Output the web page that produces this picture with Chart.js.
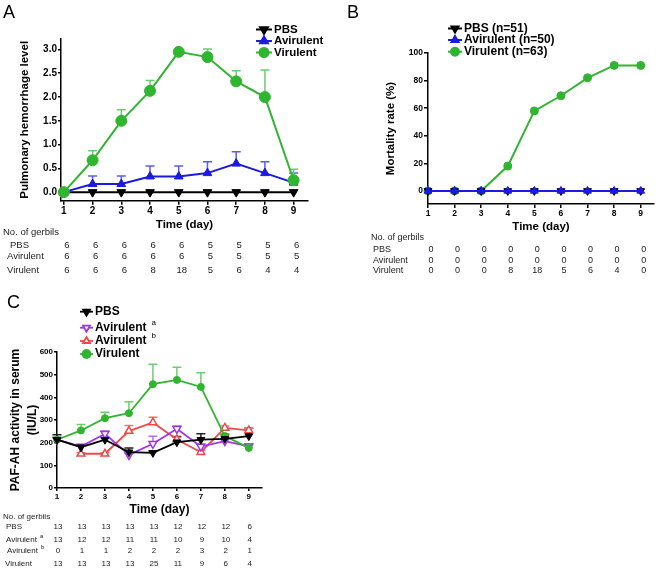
<!DOCTYPE html>
<html>
<head>
<meta charset="utf-8">
<script src="https://cdn.jsdelivr.net/npm/chart.js@4.4.0/dist/chart.umd.min.js"></script>
<style>
body { margin: 0; background: #fff; }
#wrap { position: relative; width: 656px; height: 568px; }
canvas { position: absolute; }
</style>
</head>
<body>
<div id="wrap">
  <canvas id="chartA" style="left:0;top:0" width="328" height="280"></canvas>
  <canvas id="chartB" style="left:330px;top:0" width="326" height="280"></canvas>
  <canvas id="chartC" style="left:0;top:280px" width="330" height="288"></canvas>
</div>
<script>
const days = [1, 2, 3, 4, 5, 6, 7, 8, 9];

// A - pulmonary hemorrhage level
const hemTicks = [0, 0.5, 1, 1.5, 2, 2.5, 3];
const hemPBS = [0, 0, 0, 0, 0, 0, 0, 0, 0];
const hemAvir = [0, 0.17, 0.17, 0.33, 0.33, 0.4, 0.6, 0.4, 0.2];
const hemAvirErr = [0, 0.17, 0.17, 0.22, 0.22, 0.24, 0.25, 0.24, 0.2];
const hemVir = [0, 0.67, 1.5, 2.13, 2.95, 2.84, 2.33, 2.0, 0.25];
const hemVirErr = [0, 0.2, 0.23, 0.22, 0.03, 0.17, 0.22, 0.57, 0.23];
const nA_PBS = [6, 6, 6, 6, 6, 5, 5, 5, 6];
const nA_Avir = [6, 6, 6, 6, 6, 5, 5, 5, 5];
const nA_Vir = [6, 6, 6, 8, 18, 5, 6, 4, 4];

// B - mortality rate
const mortTicks = [0, 20, 40, 60, 80, 100];
const mortPBS = [0, 0, 0, 0, 0, 0, 0, 0, 0];
const mortAvir = [0, 0, 0, 0, 0, 0, 0, 0, 0];
const mortVir = [0, 0, 0, 18, 58, 69, 82, 91, 91];
const nB_PBS = [0, 0, 0, 0, 0, 0, 0, 0, 0];
const nB_Avir = [0, 0, 0, 0, 0, 0, 0, 0, 0];
const nB_Vir = [0, 0, 0, 8, 18, 5, 6, 4, 0];

// C - PAF-AH activity
const pafTicks = [0, 100, 200, 300, 400, 500, 600];
const pafPBS = [213, 180, 213, 158, 155, 202, 213, 217, 229];
const pafPBSErr = [22, 10, 10, 19, 8, 25, 26, 18, 35];
const pafAvirA = [213, 183, 239, 146, 195, 261, 183, 207, 184];
const pafAvirAErr = [10, 8, 12, 8, 33, 12, 10, 10, 10];
const pafAvirB = [null, 151, 151, 251, 289, 214, 158, 265, 254];
const pafAvirBErr = [0, 5, 5, 25, 23, 10, 8, 8, 8];
const pafVir = [213, 254, 308, 330, 458, 477, 446, 229, 177];
const pafVirErr = [8, 26, 26, 50, 88, 56, 63, 10, 10];
const nC_PBS = [13, 13, 13, 13, 13, 12, 12, 12, 6];
const nC_AvirA = [13, 12, 12, 11, 11, 10, 9, 10, 4];
const nC_AvirB = [0, 1, 1, 2, 2, 2, 3, 2, 1];
const nC_Vir = [13, 13, 13, 13, 25, 11, 9, 6, 4];

const FONT = '"Liberation Sans", Arial, Helvetica, sans-serif';
Chart.defaults.font.family = FONT;
Chart.defaults.color = '#000';

const GREEN = '#2fb52f';
const BLUE = '#1a1ae0';
const PURPLE = '#a033ee';
const RED = '#f04848';

function pts(vals) {
    return days.map((d, i) => ({x: d, y: vals[i]}));
}

// error bars (upper whisker + cap), drawn under the lines
const errorBars = {
    id: 'errorBars',
    beforeDatasetsDraw(chart) {
        const ctx = chart.ctx;
        const yScale = chart.scales.y;
        chart.data.datasets.forEach((ds, i) => {
            if (!ds.errors) return;
            const meta = chart.getDatasetMeta(i);
            ctx.save();
            ctx.strokeStyle = ds.errorColor || ds.borderColor;
            ctx.lineWidth = 1.5;
            meta.data.forEach((pt, j) => {
                const v = ds.data[j].y;
                const e = ds.errors[j];
                if (v == null || !e) return;
                const top = yScale.getPixelForValue(v + e);
                ctx.beginPath();
                ctx.moveTo(pt.x, pt.y);
                ctx.lineTo(pt.x, top);
                ctx.moveTo(pt.x - 4.5, top);
                ctx.lineTo(pt.x + 4.5, top);
                ctx.stroke();
            });
            ctx.restore();
        });
    }
};

// panel letter, legend and "No. of gerbils" table
function makeExtras(cfg) {
    return {
        id: 'extras',
        afterDraw(chart) {
            const ctx = chart.ctx;
            const xScale = chart.scales.x;
            ctx.save();
            ctx.fillStyle = '#000';
            ctx.textBaseline = 'top';
            ctx.font = '18px ' + FONT;
            ctx.fillText(cfg.letter, cfg.letterX, cfg.letterY);

            const lg = cfg.legend;
            lg.items.forEach((it, k) => {
                const ds = chart.data.datasets[it.ds];
                const y = lg.ys[k];
                ctx.strokeStyle = ds.borderColor;
                ctx.lineWidth = ds.borderWidth;
                ctx.beginPath();
                ctx.moveTo(lg.x, y);
                ctx.lineTo(lg.x + lg.len, y);
                ctx.stroke();
                ctx.fillStyle = ds.pointBackgroundColor;
                ctx.strokeStyle = ds.borderColor;
                Chart.helpers.drawPoint(ctx, {
                    pointStyle: ds.pointStyle, rotation: ds.pointRotation || 0,
                    radius: lg.r, borderWidth: ds.pointBorderWidth
                }, lg.x + lg.len / 2, y);
                ctx.fillStyle = '#000';
                ctx.textBaseline = 'middle';
                ctx.textAlign = 'left';
                ctx.font = 'bold ' + lg.size + 'px ' + FONT;
                const tx = lg.x + lg.len + 2;
                ctx.fillText(it.text, tx, y);
                if (it.sup) {
                    const w = ctx.measureText(it.text).width;
                    ctx.font = '8px ' + FONT;
                    ctx.fillText(it.sup, tx + w + 5, y - 5);
                }
            });

            const tb = cfg.table;
            ctx.fillStyle = '#222';
            ctx.textBaseline = 'middle';
            ctx.font = tb.size + 'px ' + FONT;
            ctx.textAlign = 'left';
            ctx.fillText('No. of gerbils', tb.titleX, tb.titleY);
            tb.rows.forEach(r => {
                ctx.font = tb.size + 'px ' + FONT;
                ctx.textAlign = 'left';
                ctx.fillText(r.label, r.x, r.y);
                if (r.sup) {
                    const w = ctx.measureText(r.label).width;
                    ctx.font = (tb.size - 2) + 'px ' + FONT;
                    ctx.fillText(r.sup, r.x + w + 3, r.y - 3);
                    ctx.font = tb.size + 'px ' + FONT;
                }
                ctx.textAlign = 'center';
                r.vals.forEach((v, k) => {
                    ctx.fillText(String(v), xScale.getPixelForValue(days[k]) + tb.offset, r.y);
                });
            });
            ctx.restore();
        }
    };
}

function xAxis(min, max, size, height, titleSize, titlePad, tickLen) {
    return {
        type: 'linear', min: min, max: max,
        afterBuildTicks: s => { s.ticks = days.map(v => ({value: v})); },
        afterFit: s => { s.height = height; },
        ticks: { font: {size: size, weight: 'bold'}, color: '#000', padding: 1, autoSkip: false, maxRotation: 0, callback: v => String(v) },
        grid: { drawOnChartArea: false, color: '#000', tickLength: tickLen, lineWidth: 1.5 },
        border: { color: '#000', width: 1.5 },
        title: { display: true, text: 'Time (day)', color: '#000', font: {size: titleSize, weight: 'bold'}, padding: {top: 0, bottom: titlePad} }
    };
}

function yAxis(min, max, tickVals, fmt, size, width, title, titleSize, titlePad, lh, tickLen) {
    return {
        type: 'linear', min: min, max: max,
        afterBuildTicks: s => { s.ticks = tickVals.map(v => ({value: v})); },
        afterFit: s => { s.width = width; },
        ticks: { font: {size: size, weight: 'bold'}, color: '#000', padding: 1, autoSkip: false, callback: fmt },
        grid: { drawOnChartArea: false, color: '#000', tickLength: tickLen, lineWidth: 1.5 },
        border: { color: '#000', width: 1.5 },
        title: { display: true, text: title, color: '#000', font: {size: titleSize, weight: 'bold', lineHeight: lh}, padding: {top: titlePad, bottom: 0} }
    };
}

const baseOpts = {
    responsive: false,
    animation: false,
    plugins: { legend: { display: false }, tooltip: { enabled: false } }
};

// ---------- A ----------
new Chart(document.getElementById('chartA'), {
    type: 'line',
    data: {
        datasets: [
            { label: 'PBS', data: pts(hemPBS), borderColor: '#000', borderWidth: 2, pointStyle: 'triangle', pointRotation: 180,
              pointRadius: 5, pointBackgroundColor: '#000', pointBorderColor: '#000', pointBorderWidth: 1, order: 2, clip: false },
            { label: 'Avirulent', data: pts(hemAvir), errors: hemAvirErr, errorColor: '#5a5aee', borderColor: BLUE, borderWidth: 2,
              pointStyle: 'triangle', pointRadius: 5, pointBackgroundColor: BLUE, pointBorderColor: BLUE, pointBorderWidth: 1, order: 1, clip: false },
            { label: 'Virulent', data: pts(hemVir), errors: hemVirErr, errorColor: '#6cce6c', borderColor: GREEN, borderWidth: 2,
              pointStyle: 'circle', pointRadius: 5.5, pointBackgroundColor: GREEN, pointBorderColor: GREEN, pointBorderWidth: 1, order: 0, clip: false }
        ]
    },
    options: Object.assign({}, baseOpts, {
        layout: { autoPadding: false, padding: {top: 39, right: 20, bottom: 47.3, left: 0} },
        elements: { line: { tension: 0 } },
        scales: {
            x: xAxis(0.9, 9.5, 10, 32, 11.5, 0.8, 4),
            y: yAxis(-0.18, 3.22, hemTicks, v => v.toFixed(1), 10, 61, 'Pulmonary hemorrhage level', 11.5, 18, 1.2, 3)
        }
    }),
    plugins: [errorBars, makeExtras({
        letter: 'A', letterX: 3, letterY: 4,
        legend: { x: 256, len: 16, r: 4.5, size: 11.5, ys: [29.5, 41, 52.5],
                  items: [{ds: 0, text: 'PBS'}, {ds: 1, text: 'Avirulent'}, {ds: 2, text: 'Virulent'}] },
        table: { size: 9.5, titleX: 3, titleY: 232.3, offset: 3, rows: [
            {label: 'PBS', x: 10, y: 245, vals: nA_PBS},
            {label: 'Avirulent', x: 7, y: 256.7, vals: nA_Avir},
            {label: 'Virulent', x: 7, y: 270, vals: nA_Vir}
        ] }
    })]
});

// ---------- B ----------
new Chart(document.getElementById('chartB'), {
    type: 'line',
    data: {
        datasets: [
            { label: 'PBS (n=51)', data: pts(mortPBS), borderColor: '#000', borderWidth: 2, pointStyle: 'triangle', pointRotation: 180,
              pointRadius: 4.5, pointBackgroundColor: '#000', pointBorderColor: '#000', pointBorderWidth: 1, order: 1, clip: false },
            { label: 'Avirulent (n=50)', data: pts(mortAvir), borderColor: BLUE, borderWidth: 2, pointStyle: 'triangle',
              pointRadius: 4.5, pointBackgroundColor: BLUE, pointBorderColor: BLUE, pointBorderWidth: 1, order: 0, clip: false },
            { label: 'Virulent (n=63)', data: pts(mortVir), borderColor: GREEN, borderWidth: 2, pointStyle: 'circle',
              pointRadius: 4, pointBackgroundColor: GREEN, pointBorderColor: GREEN, pointBorderWidth: 1, order: 2, clip: false }
        ]
    },
    options: Object.assign({}, baseOpts, {
        layout: { autoPadding: false, padding: {top: 53, right: 2, bottom: 44, left: 0} },
        elements: { line: { tension: 0 } },
        scales: {
            x: xAxis(1, 9.5, 8.5, 32, 11.5, 2.1, 4),
            y: yAxis(-9.5, 100, mortTicks, v => String(v), 8.5, 98, 'Mortality rate (%)', 11.5, 54, 1.2, 4)
        }
    }),
    plugins: [makeExtras({
        letter: 'B', letterX: 17, letterY: 4,
        legend: { x: 118, len: 14, r: 4, size: 12, ys: [28.5, 40, 51.7],
                  items: [{ds: 0, text: 'PBS (n=51)'}, {ds: 1, text: 'Avirulent (n=50)'}, {ds: 2, text: 'Virulent (n=63)'}] },
        table: { size: 9, titleX: 41, titleY: 238, offset: 3, rows: [
            {label: 'PBS', x: 43, y: 249.3, vals: nB_PBS},
            {label: 'Avirulent', x: 43, y: 260.7, vals: nB_Avir},
            {label: 'Virulent', x: 43, y: 271, vals: nB_Vir}
        ] }
    })]
});

// ---------- C ----------
new Chart(document.getElementById('chartC'), {
    type: 'line',
    data: {
        datasets: [
            { label: 'PBS', data: pts(pafPBS), errors: pafPBSErr, errorColor: '#222', borderColor: '#000', borderWidth: 1.8,
              pointStyle: 'triangle', pointRotation: 180, pointRadius: 4.5, pointBackgroundColor: '#000', pointBorderColor: '#000',
              pointBorderWidth: 1, order: 0, clip: false },
            { label: 'Avirulent a', data: pts(pafAvirA), errors: pafAvirAErr, errorColor: '#b870f2', borderColor: PURPLE, borderWidth: 1.8,
              pointStyle: 'triangle', pointRotation: 180, pointRadius: 4.5, pointBackgroundColor: '#fff', pointBorderColor: PURPLE,
              pointBorderWidth: 1.5, order: 2, clip: false },
            { label: 'Avirulent b', data: pts(pafAvirB), errors: pafAvirBErr, errorColor: '#f27474', borderColor: RED, borderWidth: 1.8,
              pointStyle: 'triangle', pointRadius: 4.5, pointBackgroundColor: '#fff', pointBorderColor: RED,
              pointBorderWidth: 1.5, order: 3, clip: false },
            { label: 'Virulent', data: pts(pafVir), errors: pafVirErr, errorColor: '#6cce6c', borderColor: GREEN, borderWidth: 1.8,
              pointStyle: 'circle', pointRadius: 3.5, pointBackgroundColor: GREEN, pointBorderColor: GREEN,
              pointBorderWidth: 1, order: 1, clip: false }
        ]
    },
    options: Object.assign({}, baseOpts, {
        layout: { autoPadding: false, padding: {top: 72, right: 68, bottom: 50, left: 0} },
        elements: { line: { tension: 0 } },
        scales: {
            x: xAxis(1, 9.55, 8, 30, 12, 0.8, 3),
            y: yAxis(0, 600, pafTicks, v => String(v), 8, 57, ['PAF-AH activity in serum', '(IU/L)'], 12, 7.1, 1.4, 3)
        }
    }),
    plugins: [errorBars, makeExtras({
        letter: 'C', letterX: 7, letterY: 14,
        legend: { x: 80, len: 13, r: 4, size: 12, ys: [31.7, 47.7, 61, 74],
                  items: [{ds: 0, text: 'PBS'}, {ds: 1, text: 'Avirulent', sup: 'a'}, {ds: 2, text: 'Avirulent', sup: 'b'}, {ds: 3, text: 'Virulent'}] },
        table: { size: 8, titleX: 3, titleY: 236.7, offset: 1, rows: [
            {label: 'PBS', x: 6, y: 246.7, vals: nC_PBS},
            {label: 'Avirulent', sup: 'a', x: 6, y: 259.3, vals: nC_AvirA},
            {label: 'Avirulent', sup: 'b', x: 7, y: 270.7, vals: nC_AvirB},
            {label: 'Virulent', x: 5, y: 283.3, vals: nC_Vir}
        ] }
    })]
});
</script>
</body>
</html>
